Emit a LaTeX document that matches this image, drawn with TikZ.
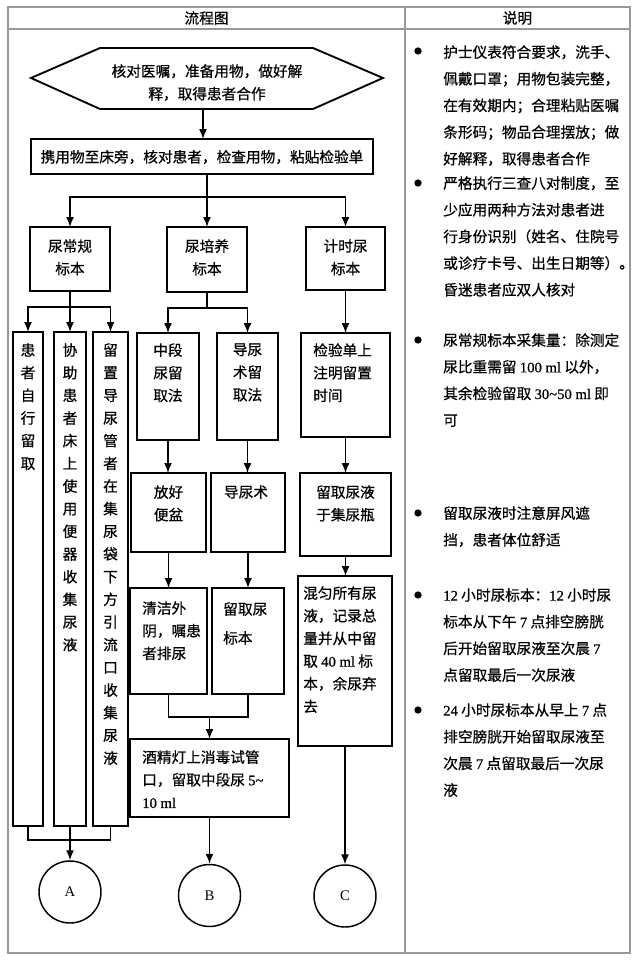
\documentclass[tikz,border=0pt]{standalone}
\usepackage{fontspec}
\setmainfont{Noto Sans CJK SC}[FakeBold=0.6]
\newfontfamily\lat{Liberation Serif}[FakeBold=0.6]
\newfontfamily\latc{Liberation Serif}
\usetikzlibrary{arrows.meta,calc}
\newcommand\fa{\fontsize{11pt}{17pt}\selectfont}
\newcommand\fb{\fontsize{11pt}{20pt}\selectfont}
\newcommand\mybox[5]{\node[box, minimum width={(#4-#2)*0.75pt}, minimum height={(#5-#3)*0.75pt}] (#1) at (#2,#3) {};}
\begin{document}
\begin{tikzpicture}[x=0.75pt,y=-0.75pt,
 frame/.style={draw=black!40, line width=1.1pt},
 box/.style={draw, line width=1.4pt, inner sep=0pt, outer sep=0pt, anchor=north west},
 ctxt/.style={inner sep=0pt, font=\fa, align=center, anchor=north},
 ltxt/.style={inner sep=0pt, font=\fa, align=left, anchor=north west},
 rtxt/.style={inner sep=0pt, font=\fb, align=left, anchor=north west},
 arr/.style={line width=1.1pt, -{Latex[length=7.5pt,width=6pt]}},
 ln/.style={line width=1.1pt},
 bullet/.style={circle, fill, inner sep=0pt, minimum size=5.5pt},
 endc/.style={circle, draw, line width=1.1pt, inner sep=0pt, minimum size={62*0.75pt}, font=\latc\fontsize{11pt}{12pt}\selectfont}]
\fill[white] (0,0) rectangle (641,960);
\useasboundingbox (0,0) rectangle (641,960);
% table frame
\draw[frame] (8,7) rectangle (630,953);
\draw[frame] (8,29) -- (630,29);
\draw[frame] (405,7) -- (405,953);
\node[font=\fa, inner sep=0pt] (h1) at (206.5,18) {流程图};
\node[font=\fa, inner sep=0pt] (h2) at (517.5,18) {说明};
% hexagon
\draw[line width=1.4pt] (31,78) -- (100,48) -- (313,48) -- (383,78) -- (313,109) -- (100,109) -- cycle;
\node[ctxt] (hex) at (207,64) {核对医嘱，准备用物，做好解\\释，取得患者合作};
\coordinate (hexS) at (203,109);
% boxes
\mybox{box2}{31}{139}{373}{174}
\mybox{bA}{30}{227}{110}{291}
\mybox{bB}{167}{227}{247}{292}
\mybox{bC}{306}{227}{385}{290}
\mybox{a1}{13}{332}{43}{826}
\mybox{a2}{54}{332}{86}{826}
\mybox{a3}{93}{332}{128}{826}
\mybox{b1}{137}{333}{199}{440}
\mybox{b2}{217}{333}{278}{440}
\mybox{c1}{301}{333}{390}{437}
\mybox{b3}{131}{473}{206}{552}
\mybox{b4}{211}{473}{285}{552}
\mybox{c2}{300}{473}{391}{556}
\mybox{b5}{130}{588}{207}{694}
\mybox{b6}{212}{588}{284}{694}
\mybox{c3}{298}{576}{392}{746}
\mybox{b7}{130}{739}{289}{817}
\node[endc] (cA) at (70,892) {A};
\node[endc] (cB) at (209.5,895.5) {B};
\node[endc] (cC) at (345,896) {C};
% texts
\node[ctxt, anchor=center] (t2) at (202,157) {携用物至床旁，核对患者，检查用物，粘贴检验单};
\node[ctxt] (tA) at (70,239) {尿常规\\标本};
\node[ctxt] (tB) at (207,239) {尿培养\\标本};
\node[ctxt] (tC) at (345.5,239) {计时尿\\标本};
\node[ctxt] (ta1) at (28,343) {患\\者\\自\\行\\留\\取};
\node[ctxt] (ta2) at (70,343) {协\\助\\患\\者\\床\\上\\使\\用\\便\\器\\收\\集\\尿\\液};
\node[ctxt] (ta3) at (110.5,343) {留\\置\\导\\尿\\管\\者\\在\\集\\尿\\袋\\下\\方\\引\\流\\口\\收\\集\\尿\\液};
\node[ctxt] (tb1) at (168,343) {中段\\尿留\\取法};
\node[ctxt] (tb2) at (247.5,343) {导尿\\术留\\取法};
\node[ltxt] (tc1) at (313,343) {检验单上\\注明留置\\时间};
\node[ctxt] (tb3) at (168.5,485) {放好\\便盆};
\node[ctxt] (tb4) at (246,485) {导尿术};
\node[ctxt] (tc2) at (345.5,485) {留取尿液\\于集尿瓶};
\node[ltxt] (tb5) at (142,601) {清洁外\\阴，嘱患\\者排尿};
\node[ltxt] (tb6) at (223,602) {留取尿\\[4.7pt]标本};
\node[ltxt] (tc3) at (303,586) {混匀所有尿\\液，记录总\\量并从中留\\取 {\lat 40 ml} 标\\本，余尿弃\\去};
\node[ltxt] (tb7) at (142,750) {酒精灯上消毒试管\\口，留取中段尿 {\lat 5\textasciitilde}\\{\lat 10 ml}};
% connectors
\draw[arr] (hexS) -- (hexS |- box2.north);
\coordinate (j1) at (207,197);
\draw[ln] (box2.south -| j1) -- (j1);
\draw[arr] (j1) -- (bB.north);
\draw[arr] (j1) -| (bA.north);
\draw[arr] (j1) -| (bC.north);
\coordinate (j2) at (70,307);
\draw[arr] (bA.south) -- (a2.north);
\draw[arr] (j2) -| (a1.north);
\draw[arr] (j2) -| (a3.north);
\coordinate (j3) at (207,308);
\draw[ln] (bB.south) -- (j3);
\draw[arr] (j3) -| (b1.north);
\draw[arr] (j3) -| (b2.north);
\draw[arr] (bC.south) -- (bC.south |- c1.north);
\draw[arr] (b1.south) -- (b1.south |- b3.north);
\draw[arr] (b2.south) -- (b2.south |- b4.north);
\draw[arr] (c1.south) -- (c1.south |- c2.north);
\draw[arr] (b3.south) -- (b3.south |- b5.north);
\draw[arr] (b4.south) -- (b4.south |- b6.north);
\draw[arr] (c2.south) -- (c2.south |- c3.north);
\draw[ln] (b5.south) -- ++(0,23) -| (b6.south);
\coordinate (j4) at (209.5,717);
\draw[arr] (j4) -- (b7.north);
\draw[arr] (b7.south) -- (cB.north);
\draw[arr] (c3.south) -- (cC.north);
\draw[ln] (a1.south) -- ++(0,14) -| (a3.south);
\draw[arr] (a2.south) -- (cA.north);
% right column
\node[bullet] (u1) at (418,51) {};
\node[rtxt] (r1) at (443,45) {护士仪表符合要求，洗手、\\佩戴口罩；用物包装完整，\\在有效期内；合理粘贴医嘱\\条形码；物品合理摆放；做\\好解释，取得患者合作};
\node[bullet] (u2) at (418,183) {};
\node[rtxt] (r2) at (443,176) {严格执行三查八对制度，至\\少应用两种方法对患者进\\行身份识别（姓名、住院号\\或诊疗卡号、出生日期等）。\\昏迷患者应双人核对};
\node[bullet] (u3) at (418,340) {};
\node[rtxt] (r3) at (443,333) {尿常规标本采集量：除测定\\尿比重需留 {\lat 100 ml} 以外，\\其余检验留取 {\lat 30\textasciitilde 50 ml} 即\\可};
\node[bullet] (u4) at (418,513) {};
\node[rtxt] (r4) at (443,506) {留取尿液时注意屏风遮\\挡，患者体位舒适};
\node[bullet] (u5) at (418,595) {};
\node[rtxt] (r5) at (443,588) {{\lat 12} 小时尿标本：{\lat 12} 小时尿\\标本从下午 {\lat 7} 点排空膀胱\\后开始留取尿液至次晨 {\lat 7}\\点留取最后一次尿液};
\node[bullet] (u6) at (418,710) {};
\node[rtxt] (r6) at (443,703) {{\lat 24} 小时尿标本从早上 {\lat 7} 点\\排空膀胱开始留取尿液至\\次晨 {\lat 7} 点留取最后一次尿\\液};
\end{tikzpicture}
\end{document}
